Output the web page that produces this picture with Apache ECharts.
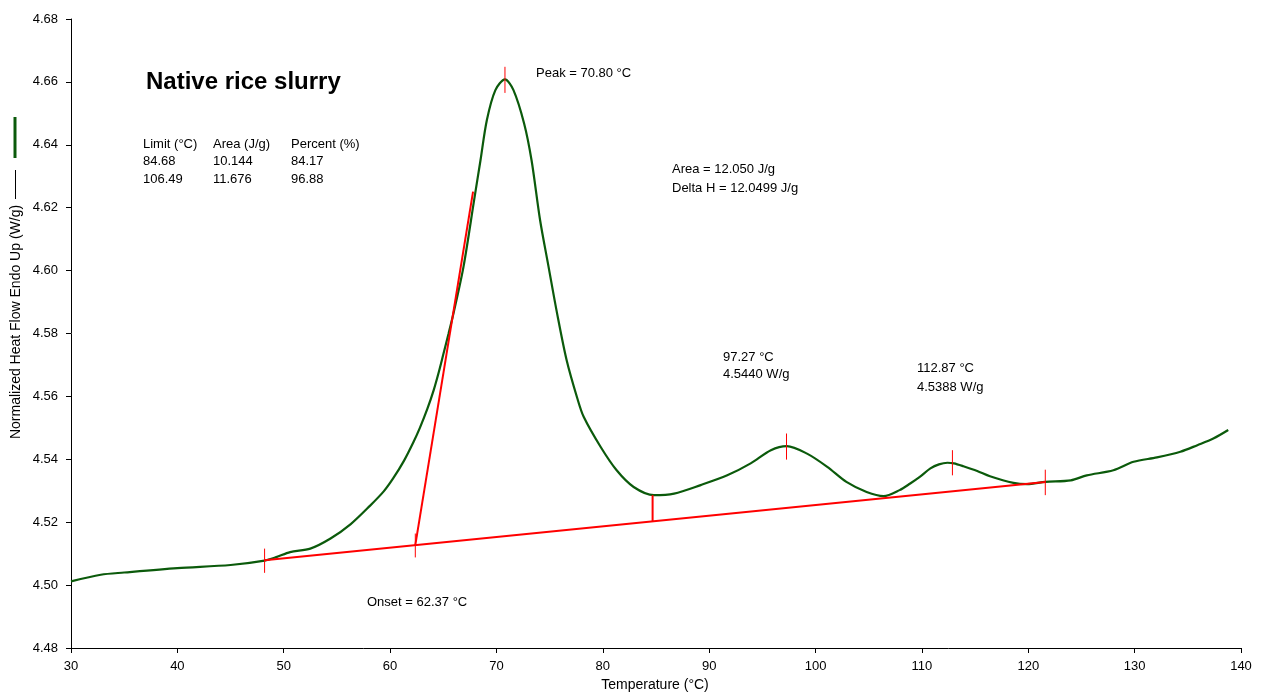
<!DOCTYPE html>
<html>
<head>
<meta charset="utf-8">
<script src="https://cdn.jsdelivr.net/npm/echarts@6/dist/echarts.min.js"></script>
<style>
html,body{margin:0;padding:0;background:#fff;}
#chart{width:1264px;height:693px;}
</style>
</head>
<body>
<div id="chart"></div>
<script>
// ---- Data ----
const temperature = [30, 32.8, 35, 40, 45, 48.2, 49.3, 50.6, 52.5, 54.4, 56.3, 58.1, 59.4, 60.3, 61.3, 62.2, 62.8, 63.5, 64.1, 64.6, 65.0, 65.5, 66.0, 66.9, 67.9, 68.5, 69.1, 69.9, 70.8, 71.6, 72.6, 73.3, 74.1, 74.9, 75.7, 76.6, 77.6, 78.2, 79.8, 81.3, 82.9, 84.8, 86.7, 89.2, 91.7, 93.9, 95.8, 97.3, 99.2, 101.1, 102.9, 104.8, 106.4, 107.9, 108.9, 109.8, 110.8, 111.6, 112.4, 113.0, 113.9, 115.2, 116.4, 118.6, 119.9, 121.6, 124.0, 125.5, 128.0, 129.9, 132.1, 134.3, 135.9, 137.4, 138.8];
const heatFlow = [4.5012, 4.5033, 4.5040, 4.5054, 4.5064, 4.5078, 4.5089, 4.5105, 4.5116, 4.5148, 4.5194, 4.5252, 4.5298, 4.5340, 4.5395, 4.5455, 4.5500, 4.5560, 4.5620, 4.5680, 4.5733, 4.5800, 4.5870, 4.6012, 4.6224, 4.6351, 4.6479, 4.6574, 4.6608, 4.6574, 4.6468, 4.6351, 4.6161, 4.6012, 4.5864, 4.5715, 4.5594, 4.5535, 4.5439, 4.5365, 4.5312, 4.5286, 4.5291, 4.5318, 4.5349, 4.5387, 4.5429, 4.5442, 4.5418, 4.5376, 4.5328, 4.5296, 4.5283, 4.5302, 4.5323, 4.5344, 4.5371, 4.5384, 4.5389, 4.5387, 4.5378, 4.5363, 4.5346, 4.5325, 4.5321, 4.5328, 4.5333, 4.5349, 4.5365, 4.5392, 4.5406, 4.5424, 4.5445, 4.5466, 4.5493];

const baselineT = [48.2, 121.6];
const baselineV = [4.5079, 4.5328];
const tangentT = [62.37, 67.8];
const tangentV = [4.5127, 4.6251];
const limitT = 84.68;
const limitV = [4.5203, 4.5286];
// analysis tick marks: temperature, low, high
const markT = [48.2, 62.37, 70.8, 97.27, 112.87, 121.6];
const markLow = [4.5039, 4.5088, 4.6565, 4.5399, 4.5349, 4.5286];
const markHigh = [4.5116, 4.5164, 4.6648, 4.5482, 4.5429, 4.5367];

const xTicks = [30, 140, 10];      // min, max, interval
const yTicks = [4.48, 4.68, 0.02]; // min, max, interval

// ---- Chart ----
const FONT = '"Liberation Sans", Arial, sans-serif';
const chart = echarts.init(document.getElementById('chart'), null, {renderer: 'canvas'});

const curve = temperature.map((t, i) => [t, heatFlow[i]]);
const series = [
  {
    type: 'line', data: curve, showSymbol: false, smooth: 0.3,
    lineStyle: {color: '#0b5a0b', width: 2.2}, z: 2
  },
  {
    type: 'line', data: baselineT.map((t, i) => [t, baselineV[i]]), showSymbol: false,
    lineStyle: {color: '#ff0000', width: 2}, z: 3
  },
  {
    type: 'line', data: tangentT.map((t, i) => [t, tangentV[i]]), showSymbol: false,
    lineStyle: {color: '#ff0000', width: 2}, z: 3
  },
  {
    type: 'line', data: [[limitT, limitV[0]], [limitT, limitV[1]]], showSymbol: false,
    lineStyle: {color: '#ff0000', width: 2}, z: 3
  }
];
markT.forEach((t, i) => {
  series.push({
    type: 'line', data: [[t, markLow[i]], [t, markHigh[i]]], showSymbol: false,
    lineStyle: {color: '#ff0000', width: 1}, z: 4
  });
});

function txt(x, y, text, opts) {
  return {
    type: 'text', x: x, y: y,
    style: Object.assign({text: text, fill: '#000', font: '13px ' + FONT, textVerticalAlign: 'middle'}, opts || {})
  };
}

const option = {
  animation: false,
  backgroundColor: '#fff',
  grid: {left: 71, right: 23, top: 19, bottom: 45, containLabel: false},
  xAxis: {
    type: 'value', min: xTicks[0], max: xTicks[1], interval: xTicks[2],
    axisLine: {onZero: false, lineStyle: {color: '#000', width: 1}},
    axisTick: {length: 5, lineStyle: {color: '#000'}},
    axisLabel: {color: '#000', fontFamily: FONT, fontSize: 13, margin: 12},
    splitLine: {show: false}
  },
  yAxis: {
    type: 'value', min: yTicks[0], max: yTicks[1], interval: yTicks[2],
    axisLine: {show: true, onZero: false, lineStyle: {color: '#000', width: 1}},
    axisTick: {show: true, length: 5, lineStyle: {color: '#000'}},
    axisLabel: {color: '#000', fontFamily: FONT, fontSize: 13, margin: 13,
      formatter: v => v.toFixed(2)},
    splitLine: {show: false}
  },
  series: series,
  graphic: [
    {type: 'line', shape: {x1: 15, y1: 117, x2: 15, y2: 158}, style: {stroke: '#0b5a0b', lineWidth: 3}},
    {type: 'line', shape: {x1: 15.5, y1: 170, x2: 15.5, y2: 199}, style: {stroke: '#000', lineWidth: 1}},
    {type: 'text', x: 16, y: 322, rotation: Math.PI / 2,
      style: {text: 'Normalized Heat Flow Endo Up (W/g)', fill: '#000', font: '14px ' + FONT,
        textAlign: 'center', textVerticalAlign: 'middle'}},
    txt(655, 685, 'Temperature (°C)', {textAlign: 'center', font: '14px ' + FONT}),
    txt(146, 82, 'Native rice slurry', {font: 'bold 24px ' + FONT}),
    txt(143, 144, 'Limit (°C)'),
    txt(213, 144, 'Area (J/g)'),
    txt(291, 144, 'Percent (%)'),
    txt(143, 161.5, '84.68'),
    txt(213, 161.5, '10.144'),
    txt(291, 161.5, '84.17'),
    txt(143, 179, '106.49'),
    txt(213, 179, '11.676'),
    txt(291, 179, '96.88'),
    txt(536, 73, 'Peak = 70.80 °C'),
    txt(672, 169, 'Area = 12.050 J/g'),
    txt(672, 188, 'Delta H = 12.0499 J/g'),
    txt(723, 357, '97.27 °C'),
    txt(723, 374, '4.5440 W/g'),
    txt(917, 368, '112.87 °C'),
    txt(917, 387, '4.5388 W/g'),
    txt(367, 602, 'Onset = 62.37 °C')
  ]
};
chart.setOption(option);
</script>
</body>
</html>
